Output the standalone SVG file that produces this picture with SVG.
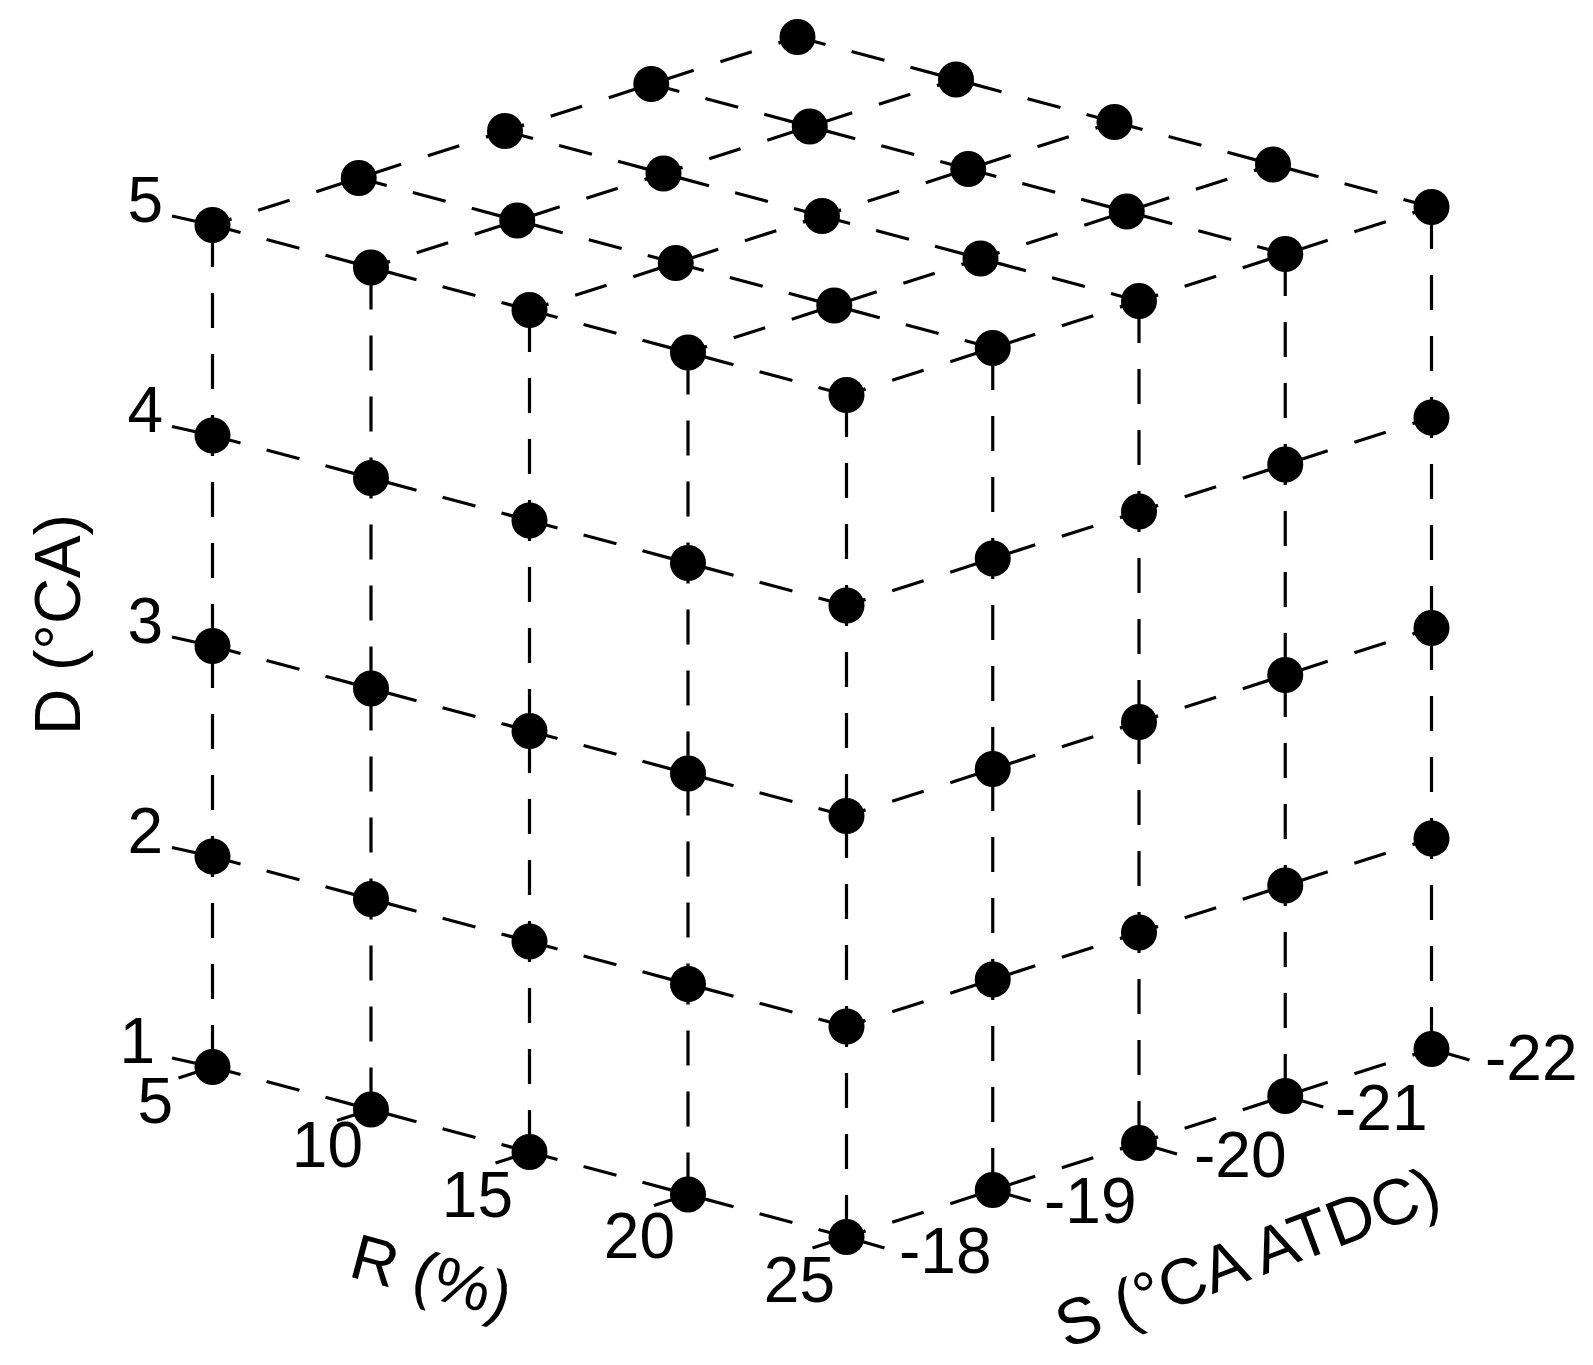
<svg xmlns="http://www.w3.org/2000/svg" width="1593" height="1365" viewBox="0 0 1593 1365">
<style>
.bg{fill:#fff}
.ln{fill:none;stroke:#000;stroke-width:3.2}
.r{stroke-dasharray:34 27;stroke-dashoffset:5}
.s{stroke-dasharray:33 28;stroke-dashoffset:13}
.v{stroke-dasharray:35 26;stroke-dashoffset:-7}
.tk{fill:none;stroke:#000;stroke-width:3.2}
.m{fill:#000}
text{font-family:"Liberation Sans",Arial,sans-serif;font-size:64px;fill:#000}
.e{text-anchor:end}
</style>
<rect class="bg" x="0" y="0" width="1593" height="1365"/>
<g id="connectors">
<path class="ln r" d="M212.5 225L371 267.5M529.5 310L371 267.5M529.5 310L688 352.5M846.5 395L688 352.5"/>
<path class="ln r" d="M358.75 178L517.25 220.5M675.75 263L517.25 220.5M675.75 263L834.25 305.5M992.75 348L834.25 305.5"/>
<path class="ln r" d="M505 131L663.5 173.5M822 216L663.5 173.5M822 216L980.5 258.5M1139 301L980.5 258.5"/>
<path class="ln r" d="M651.25 84L809.75 126.5M968.25 169L809.75 126.5M968.25 169L1126.75 211.5M1285.25 254L1126.75 211.5"/>
<path class="ln r" d="M797.5 37L956 79.5M1114.5 122L956 79.5M1114.5 122L1273 164.5M1431.5 207L1273 164.5"/>
<path class="ln s" d="M212.5 225L358.75 178M505 131L358.75 178M505 131L651.25 84M797.5 37L651.25 84"/>
<path class="ln s" d="M371 267.5L517.25 220.5M663.5 173.5L517.25 220.5M663.5 173.5L809.75 126.5M956 79.5L809.75 126.5"/>
<path class="ln s" d="M529.5 310L675.75 263M822 216L675.75 263M822 216L968.25 169M1114.5 122L968.25 169"/>
<path class="ln s" d="M688 352.5L834.25 305.5M980.5 258.5L834.25 305.5M980.5 258.5L1126.75 211.5M1273 164.5L1126.75 211.5"/>
<path class="ln s" d="M846.5 395L992.75 348M1139 301L992.75 348M1139 301L1285.25 254M1431.5 207L1285.25 254"/>
<path class="ln r" d="M212.5 1067L371 1109.5M529.5 1152L371 1109.5M529.5 1152L688 1194.5M846.5 1237L688 1194.5"/>
<path class="ln r" d="M212.5 856.5L371 899M529.5 941.5L371 899M529.5 941.5L688 984M846.5 1026.5L688 984"/>
<path class="ln r" d="M212.5 646L371 688.5M529.5 731L371 688.5M529.5 731L688 773.5M846.5 816L688 773.5"/>
<path class="ln r" d="M212.5 435.5L371 478M529.5 520.5L371 478M529.5 520.5L688 563M846.5 605.5L688 563"/>
<path class="ln v" d="M212.5 1067L212.5 856.5M212.5 646L212.5 856.5M212.5 646L212.5 435.5M212.5 225L212.5 435.5"/>
<path class="ln v" d="M371 1109.5L371 899M371 688.5L371 899M371 688.5L371 478M371 267.5L371 478"/>
<path class="ln v" d="M529.5 1152L529.5 941.5M529.5 731L529.5 941.5M529.5 731L529.5 520.5M529.5 310L529.5 520.5"/>
<path class="ln v" d="M688 1194.5L688 984M688 773.5L688 984M688 773.5L688 563M688 352.5L688 563"/>
<path class="ln v" d="M846.5 1237L846.5 1026.5M846.5 816L846.5 1026.5M846.5 816L846.5 605.5M846.5 395L846.5 605.5"/>
<path class="ln s" d="M846.5 1237L992.75 1190M1139 1143L992.75 1190M1139 1143L1285.25 1096M1431.5 1049L1285.25 1096"/>
<path class="ln s" d="M846.5 1026.5L992.75 979.5M1139 932.5L992.75 979.5M1139 932.5L1285.25 885.5M1431.5 838.5L1285.25 885.5"/>
<path class="ln s" d="M846.5 816L992.75 769M1139 722L992.75 769M1139 722L1285.25 675M1431.5 628L1285.25 675"/>
<path class="ln s" d="M846.5 605.5L992.75 558.5M1139 511.5L992.75 558.5M1139 511.5L1285.25 464.5M1431.5 417.5L1285.25 464.5"/>
<path class="ln v" d="M992.75 1190L992.75 979.5M992.75 769L992.75 979.5M992.75 769L992.75 558.5M992.75 348L992.75 558.5"/>
<path class="ln v" d="M1139 1143L1139 932.5M1139 722L1139 932.5M1139 722L1139 511.5M1139 301L1139 511.5"/>
<path class="ln v" d="M1285.25 1096L1285.25 885.5M1285.25 675L1285.25 885.5M1285.25 675L1285.25 464.5M1285.25 254L1285.25 464.5"/>
<path class="ln v" d="M1431.5 1049L1431.5 838.5M1431.5 628L1431.5 838.5M1431.5 628L1431.5 417.5M1431.5 207L1431.5 417.5"/>
</g>
<g id="ticks">
<path class="tk" d="M212.5 1067L172 1058M212.5 856.5L172 847.5M212.5 646L172 637M212.5 435.5L172 426.5M212.5 225L172 216"/>
<path class="tk" d="M212.5 1067L178.5 1078M371 1109.5L337 1120.5M529.5 1152L495.5 1163M688 1194.5L654 1205.5M846.5 1237L812.5 1248"/>
<path class="tk" d="M846.5 1237L884.5 1248M992.75 1190L1030.75 1201M1139 1143L1177 1154M1285.25 1096L1323.25 1107M1431.5 1049L1469.5 1060"/>
</g>
<g id="nodes">
<g id="p-R5-S18-D5"><circle class="m" cx="212.5" cy="225" r="18"/></g>
<g id="p-R5-S19-D5"><circle class="m" cx="358.75" cy="178" r="18"/></g>
<g id="p-R5-S20-D5"><circle class="m" cx="505" cy="131" r="18"/></g>
<g id="p-R5-S21-D5"><circle class="m" cx="651.25" cy="84" r="18"/></g>
<g id="p-R5-S22-D5"><circle class="m" cx="797.5" cy="37" r="18"/></g>
<g id="p-R10-S18-D5"><circle class="m" cx="371" cy="267.5" r="18"/></g>
<g id="p-R10-S19-D5"><circle class="m" cx="517.25" cy="220.5" r="18"/></g>
<g id="p-R10-S20-D5"><circle class="m" cx="663.5" cy="173.5" r="18"/></g>
<g id="p-R10-S21-D5"><circle class="m" cx="809.75" cy="126.5" r="18"/></g>
<g id="p-R10-S22-D5"><circle class="m" cx="956" cy="79.5" r="18"/></g>
<g id="p-R15-S18-D5"><circle class="m" cx="529.5" cy="310" r="18"/></g>
<g id="p-R15-S19-D5"><circle class="m" cx="675.75" cy="263" r="18"/></g>
<g id="p-R15-S20-D5"><circle class="m" cx="822" cy="216" r="18"/></g>
<g id="p-R15-S21-D5"><circle class="m" cx="968.25" cy="169" r="18"/></g>
<g id="p-R15-S22-D5"><circle class="m" cx="1114.5" cy="122" r="18"/></g>
<g id="p-R20-S18-D5"><circle class="m" cx="688" cy="352.5" r="18"/></g>
<g id="p-R20-S19-D5"><circle class="m" cx="834.25" cy="305.5" r="18"/></g>
<g id="p-R20-S20-D5"><circle class="m" cx="980.5" cy="258.5" r="18"/></g>
<g id="p-R20-S21-D5"><circle class="m" cx="1126.75" cy="211.5" r="18"/></g>
<g id="p-R20-S22-D5"><circle class="m" cx="1273" cy="164.5" r="18"/></g>
<g id="p-R25-S18-D5"><circle class="m" cx="846.5" cy="395" r="18"/></g>
<g id="p-R25-S19-D5"><circle class="m" cx="992.75" cy="348" r="18"/></g>
<g id="p-R25-S20-D5"><circle class="m" cx="1139" cy="301" r="18"/></g>
<g id="p-R25-S21-D5"><circle class="m" cx="1285.25" cy="254" r="18"/></g>
<g id="p-R25-S22-D5"><circle class="m" cx="1431.5" cy="207" r="18"/></g>
<g id="p-R5-S18-D1"><circle class="m" cx="212.5" cy="1067" r="18"/></g>
<g id="p-R5-S18-D2"><circle class="m" cx="212.5" cy="856.5" r="18"/></g>
<g id="p-R5-S18-D3"><circle class="m" cx="212.5" cy="646" r="18"/></g>
<g id="p-R5-S18-D4"><circle class="m" cx="212.5" cy="435.5" r="18"/></g>
<g id="p-R10-S18-D1"><circle class="m" cx="371" cy="1109.5" r="18"/></g>
<g id="p-R10-S18-D2"><circle class="m" cx="371" cy="899" r="18"/></g>
<g id="p-R10-S18-D3"><circle class="m" cx="371" cy="688.5" r="18"/></g>
<g id="p-R10-S18-D4"><circle class="m" cx="371" cy="478" r="18"/></g>
<g id="p-R15-S18-D1"><circle class="m" cx="529.5" cy="1152" r="18"/></g>
<g id="p-R15-S18-D2"><circle class="m" cx="529.5" cy="941.5" r="18"/></g>
<g id="p-R15-S18-D3"><circle class="m" cx="529.5" cy="731" r="18"/></g>
<g id="p-R15-S18-D4"><circle class="m" cx="529.5" cy="520.5" r="18"/></g>
<g id="p-R20-S18-D1"><circle class="m" cx="688" cy="1194.5" r="18"/></g>
<g id="p-R20-S18-D2"><circle class="m" cx="688" cy="984" r="18"/></g>
<g id="p-R20-S18-D3"><circle class="m" cx="688" cy="773.5" r="18"/></g>
<g id="p-R20-S18-D4"><circle class="m" cx="688" cy="563" r="18"/></g>
<g id="p-R25-S18-D1"><circle class="m" cx="846.5" cy="1237" r="18"/></g>
<g id="p-R25-S18-D2"><circle class="m" cx="846.5" cy="1026.5" r="18"/></g>
<g id="p-R25-S18-D3"><circle class="m" cx="846.5" cy="816" r="18"/></g>
<g id="p-R25-S18-D4"><circle class="m" cx="846.5" cy="605.5" r="18"/></g>
<g id="p-R25-S19-D1"><circle class="m" cx="992.75" cy="1190" r="18"/></g>
<g id="p-R25-S19-D2"><circle class="m" cx="992.75" cy="979.5" r="18"/></g>
<g id="p-R25-S19-D3"><circle class="m" cx="992.75" cy="769" r="18"/></g>
<g id="p-R25-S19-D4"><circle class="m" cx="992.75" cy="558.5" r="18"/></g>
<g id="p-R25-S20-D1"><circle class="m" cx="1139" cy="1143" r="18"/></g>
<g id="p-R25-S20-D2"><circle class="m" cx="1139" cy="932.5" r="18"/></g>
<g id="p-R25-S20-D3"><circle class="m" cx="1139" cy="722" r="18"/></g>
<g id="p-R25-S20-D4"><circle class="m" cx="1139" cy="511.5" r="18"/></g>
<g id="p-R25-S21-D1"><circle class="m" cx="1285.25" cy="1096" r="18"/></g>
<g id="p-R25-S21-D2"><circle class="m" cx="1285.25" cy="885.5" r="18"/></g>
<g id="p-R25-S21-D3"><circle class="m" cx="1285.25" cy="675" r="18"/></g>
<g id="p-R25-S21-D4"><circle class="m" cx="1285.25" cy="464.5" r="18"/></g>
<g id="p-R25-S22-D1"><circle class="m" cx="1431.5" cy="1049" r="18"/></g>
<g id="p-R25-S22-D2"><circle class="m" cx="1431.5" cy="838.5" r="18"/></g>
<g id="p-R25-S22-D3"><circle class="m" cx="1431.5" cy="628" r="18"/></g>
<g id="p-R25-S22-D4"><circle class="m" cx="1431.5" cy="417.5" r="18"/></g>
</g>
<g id="labels">
<text class="e" x="163" y="222">5</text>
<text class="e" x="163" y="432">4</text>
<text class="e" x="163" y="643">3</text>
<text class="e" x="163" y="853">2</text>
<text class="e" x="155" y="1063">1</text>
<text class="e" x="173" y="1123">5</text>
<text class="e" x="363" y="1167">10</text>
<text class="e" x="513" y="1217">15</text>
<text class="e" x="675" y="1258">20</text>
<text class="e" x="835" y="1302">25</text>
<text x="899" y="1273">-18</text>
<text x="1044" y="1223">-19</text>
<text x="1194" y="1177">-20</text>
<text x="1335" y="1130">-21</text>
<text x="1485" y="1080">-22</text>
<text transform="translate(80 735) rotate(-90)">D (°CA)</text>
<text transform="translate(347 1276) rotate(15)">R (%)</text>
<text transform="translate(1066 1349) rotate(-20.5)" style="font-size:65px">S (°CA ATDC)</text>
</g>
</svg>
